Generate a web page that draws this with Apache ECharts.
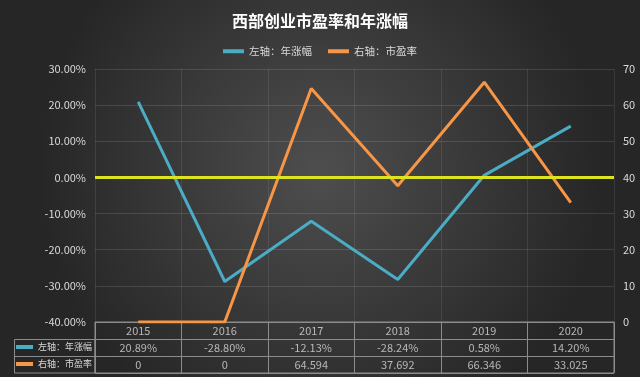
<!DOCTYPE html>
<html>
<head>
<meta charset="utf-8">
<script src="https://cdn.jsdelivr.net/npm/echarts@6/dist/echarts.min.js"></script>
<style>
  html, body { margin: 0; padding: 0; }
  #main { width: 640px; height: 377px; }
</style>
</head>
<body>
<div id="main"></div>
<script>
// 数据
const years = ['2015', '2016', '2017', '2018', '2019', '2020']
const gainPct = [20.89, -28.80, -12.13, -28.24, 0.58, 14.20] // 左轴：年涨幅 (%)
const peRatio = [0, 0, 64.594, 37.692, 66.346, 33.025] // 右轴：市盈率
const leftTicks = { min: -40, max: 30, interval: 10 }
const rightTicks = { min: 0, max: 70, interval: 10 }

const gainName = '左轴：年涨幅'
const peName = '右轴：市盈率'
const blue = '#4bacc6'
const orange = '#f79646'
const lineColor = '#8c8c8c'
const font = '"Noto Sans CJK SC", "Microsoft YaHei", sans-serif'

// 表格单元格
const rows = ['year', 'gain', 'pe']
const cells = []
years.forEach((y, i) => {
  cells.push([y, 'year', y])
  cells.push([y, 'gain', gainPct[i].toFixed(2) + '%'])
  cells.push([y, 'pe', String(peRatio[i])])
})

const myChart = echarts.init(document.getElementById('main'))

const option = {
  backgroundColor: {
    type: 'radial',
    x: 0.5,
    y: 0.45,
    r: 0.75,
    colorStops: [
      { offset: 0, color: '#4e4e4e' },
      { offset: 1, color: '#262626' }
    ]
  },
  textStyle: { fontFamily: font },
  title: {
    text: '西部创业市盈率和年涨幅',
    left: 'center',
    top: 8,
    textStyle: {
      color: '#fff',
      fontSize: 16,
      fontWeight: 'bold',
      fontFamily: font
    }
  },
  legend: [
    {
      data: [gainName, peName],
      top: 41,
      left: 'center',
      icon: 'rect',
      itemWidth: 21,
      itemHeight: 4,
      itemGap: 16,
      textStyle: { color: '#d9d9d9', fontSize: 10.5 }
    },
    {
      data: [gainName, peName],
      orient: 'vertical',
      left: 16,
      top: 340,
      padding: 0,
      icon: 'rect',
      itemWidth: 17,
      itemHeight: 4,
      itemGap: 3,
      selectedMode: false,
      textStyle: { color: '#d9d9d9', fontSize: 9, lineHeight: 14 }
    }
  ],
  grid: [
    { left: 95, right: 26, top: 69, height: 253 },
    { left: 95, right: 26, top: 322, height: 51, show: true, borderColor: lineColor, borderWidth: 1 }
  ],
  xAxis: [
    {
      type: 'category',
      data: years,
      axisLine: { show: false },
      axisTick: { show: false },
      axisLabel: { show: false },
      splitLine: { show: true, lineStyle: { color: 'rgba(255,255,255,0.09)' } }
    },
    {
      type: 'category',
      gridIndex: 1,
      data: years,
      axisLine: { show: false },
      axisTick: { show: false },
      axisLabel: { show: false },
      splitLine: { show: true, lineStyle: { color: lineColor } }
    }
  ],
  yAxis: [
    {
      type: 'value',
      min: leftTicks.min,
      max: leftTicks.max,
      interval: leftTicks.interval,
      axisLine: { show: false },
      axisTick: { show: false },
      axisLabel: {
        color: '#d9d9d9',
        fontSize: 11,
        margin: 9,
        formatter: v => v.toFixed(2) + '%'
      },
      splitLine: { lineStyle: { color: 'rgba(255,255,255,0.12)' } }
    },
    {
      type: 'value',
      min: rightTicks.min,
      max: rightTicks.max,
      interval: rightTicks.interval,
      axisLine: { show: false },
      axisTick: { show: false },
      axisLabel: { color: '#d9d9d9', fontSize: 11, margin: 9 },
      splitLine: { show: false }
    },
    {
      type: 'category',
      gridIndex: 1,
      data: rows,
      inverse: true,
      axisLine: { show: false },
      axisTick: { show: false },
      axisLabel: { show: false },
      splitLine: { show: true, lineStyle: { color: lineColor } }
    }
  ],
  graphic: [
    {
      type: 'rect',
      shape: { x: 14.5, y: 339.5, width: 80.5, height: 33.5 },
      style: { fill: 'none', stroke: lineColor, lineWidth: 1 },
      silent: true
    },
    {
      type: 'line',
      shape: { x1: 14.5, y1: 356.5, x2: 95, y2: 356.5 },
      style: { stroke: lineColor, lineWidth: 1 },
      silent: true
    }
  ],
  series: [
    {
      name: gainName,
      type: 'line',
      data: gainPct,
      yAxisIndex: 0,
      symbol: 'none',
      lineStyle: { color: blue, width: 3 },
      itemStyle: { color: blue },
      z: 3,
      markLine: {
        silent: true,
        symbol: 'none',
        label: { show: false },
        lineStyle: { color: '#dde31e', width: 3, type: 'solid' },
        data: [{ yAxis: 0 }]
      }
    },
    {
      name: peName,
      type: 'line',
      data: peRatio,
      yAxisIndex: 1,
      symbol: 'none',
      lineStyle: { color: orange, width: 3 },
      itemStyle: { color: orange },
      z: 3
    },
    {
      name: 'table',
      type: 'scatter',
      xAxisIndex: 1,
      yAxisIndex: 2,
      data: cells,
      symbolSize: 0,
      silent: true,
      label: {
        show: true,
        position: 'inside',
        color: '#d9d9d9',
        fontSize: 11,
        formatter: p => p.value[2]
      }
    }
  ]
}

myChart.setOption(option)

window.addEventListener('resize', () => {
  myChart.resize()
})
</script>
</body>
</html>
